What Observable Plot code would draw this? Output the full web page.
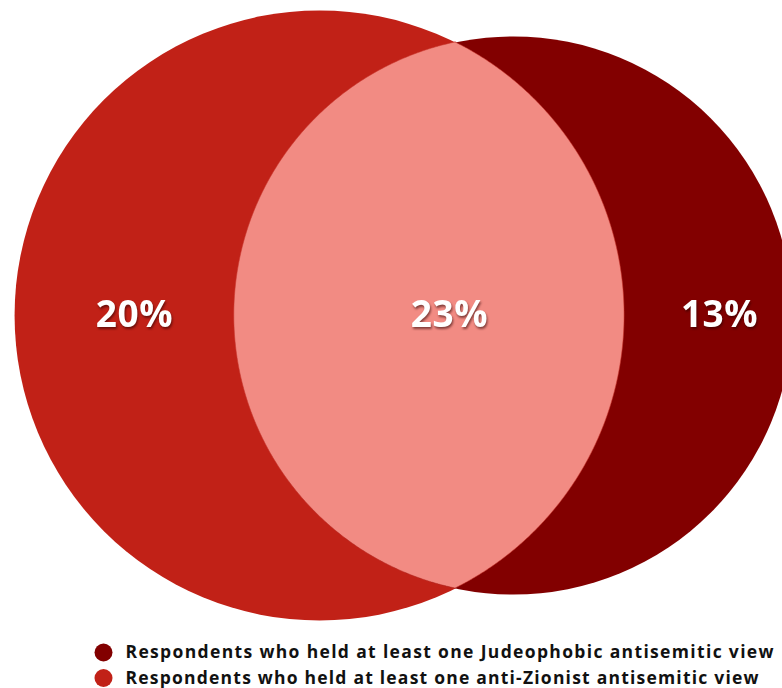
<!DOCTYPE html>
<html>
<head>
<meta charset="utf-8">
<script src="https://cdn.jsdelivr.net/npm/d3@7"></script>
<script src="https://cdn.jsdelivr.net/npm/@observablehq/plot@0.6"></script>
<style>
  html, body { margin: 0; padding: 0; background: #ffffff; }
  #chart svg { display: block; }
</style>
</head>
<body>
<div id="chart"></div>
<script>
// ---- data ----
const sets = ["anti-Zionist", "Judeophobic"];
const onlyValues = [20, 13];          // held only that kind of view (%)
const overlapValue = 23;              // held both (%)
const regionLabels = ["20%", "23%", "13%"];
const legendSets = ["Judeophobic", "anti-Zionist"];
const legendLabels = [
  "Respondents who held at least one Judeophobic antisemitic view",
  "Respondents who held at least one anti-Zionist antisemitic view"
];

// ---- style / layout ----
const setColors = ["#C12117", "#820000"];
const lensColor = "#F28B83";
const W = 782, H = 688;
const maxRadius = 305, unionCenterX = 403, centerY = 315;
const labelNudge = [10, 20, 11];
const legendX = 103, legendTextX = 125, legendTop = 652, legendStep = 25.5;
const legendTextLength = [648, 633];

// ---- derived Venn geometry (area-proportional) ----
const totals = onlyValues.map(v => v + overlapValue); // [43, 36]
const rScale = d3.scaleSqrt().domain([0, d3.max(totals)]).range([0, maxRadius]);
const r1 = rScale(totals[0]), r2 = rScale(totals[1]);

function lensArea(a, b, d) {
  if (d >= a + b) return 0;
  if (d <= Math.abs(a - b)) return Math.PI * Math.min(a, b) ** 2;
  const p = a * a * Math.acos((d * d + a * a - b * b) / (2 * d * a));
  const q = b * b * Math.acos((d * d + b * b - a * a) / (2 * d * b));
  const s = 0.5 * Math.sqrt((-d + a + b) * (d + a - b) * (d - a + b) * (d + a + b));
  return p + q - s;
}
const targetArea = Math.PI * r1 * r1 * overlapValue / totals[0];
let lo = Math.abs(r1 - r2), hi = r1 + r2;
for (let i = 0; i < 80; i++) {
  const mid = (lo + hi) / 2;
  if (lensArea(r1, r2, mid) > targetArea) lo = mid; else hi = mid;
}
const dist = (lo + hi) / 2;
const cx1 = unionCenterX - (r1 + dist + r2) / 2 + r1;
const cx2 = cx1 + dist;

const circles = sets.map((s, i) => ({set: s, total: totals[i], cx: i === 0 ? cx1 : cx2, cy: centerY}));

// lens outline
const aDist = (dist * dist + r1 * r1 - r2 * r2) / (2 * dist);
const halfChord = Math.sqrt(r1 * r1 - aDist * aDist);
const lens = d3.range(0, 401).map(i => {
  const t = Math.PI * i / 400;
  const dy = -halfChord * Math.cos(t);
  return {
    y: centerY + dy,
    x1: cx2 - Math.sqrt(Math.max(0, r2 * r2 - dy * dy)),
    x2: cx1 + Math.sqrt(Math.max(0, r1 * r1 - dy * dy))
  };
});

// label positions: middle of each region along the center line
const leftEdge1 = cx1 - r1, rightEdge1 = cx1 + r1, leftEdge2 = cx2 - r2, rightEdge2 = cx2 + r2;
const regionCenters = [(leftEdge1 + leftEdge2) / 2, (leftEdge2 + rightEdge1) / 2, (rightEdge1 + rightEdge2) / 2];
const labels = regionLabels.map((t, i) => ({text: t, x: regionCenters[i] + labelNudge[i], y: centerY}));

const legendRows = legendLabels.map((t, i) => ({set: legendSets[i], text: t, y: legendTop + i * legendStep}));

const chart = Plot.plot({
  width: W,
  height: H,
  margin: 0,
  style: {background: "#ffffff", overflow: "visible"},
  x: {domain: [0, W], range: [0, W], axis: null},
  y: {domain: [0, H], range: [0, H], axis: null},
  r: {type: "sqrt", domain: [0, d3.max(totals)], range: [0, maxRadius]},
  color: {domain: sets, range: setColors},
  marks: [
    Plot.dot(circles, {x: "cx", y: "cy", r: "total", fill: "set", stroke: "none"}),
    Plot.areaX(lens, {y: "y", x1: "x1", x2: "x2", fill: lensColor, stroke: "#C8352B", strokeOpacity: 0.55, strokeWidth: 1, curve: "linear"}),
    Plot.text(labels, {x: "x", y: "y", text: "text", fill: "#ffffff", fontSize: 37, fontWeight: 700,
      fontFamily: "'Open Sans', sans-serif"}),
    Plot.dot(legendRows, {x: legendX, y: "y", r: 9, fill: "set", stroke: "none"}),
    Plot.text(legendRows, {x: legendTextX, y: "y", text: "text", textAnchor: "start", fill: "#111111",
      fontSize: 17.5, fontWeight: 700, fontFamily: "'Open Sans', sans-serif"})
  ]
});

document.getElementById("chart").appendChild(chart);

const textGroups = chart.querySelectorAll('g[aria-label="text"]');
// text shadow on the percent labels
if (textGroups[0]) {
  textGroups[0].style.filter = "drop-shadow(1px 2px 1.2px rgba(40,0,0,0.55))";
  textGroups[0].querySelectorAll("text").forEach(t => t.setAttribute("letter-spacing", "0.5"));
}
// fit legend text widths
if (textGroups[1]) {
  textGroups[1].querySelectorAll("text").forEach((t, i) => {
    t.setAttribute("textLength", legendTextLength[i]);
    t.setAttribute("lengthAdjust", "spacing");
  });
}
</script>
</body>
</html>
